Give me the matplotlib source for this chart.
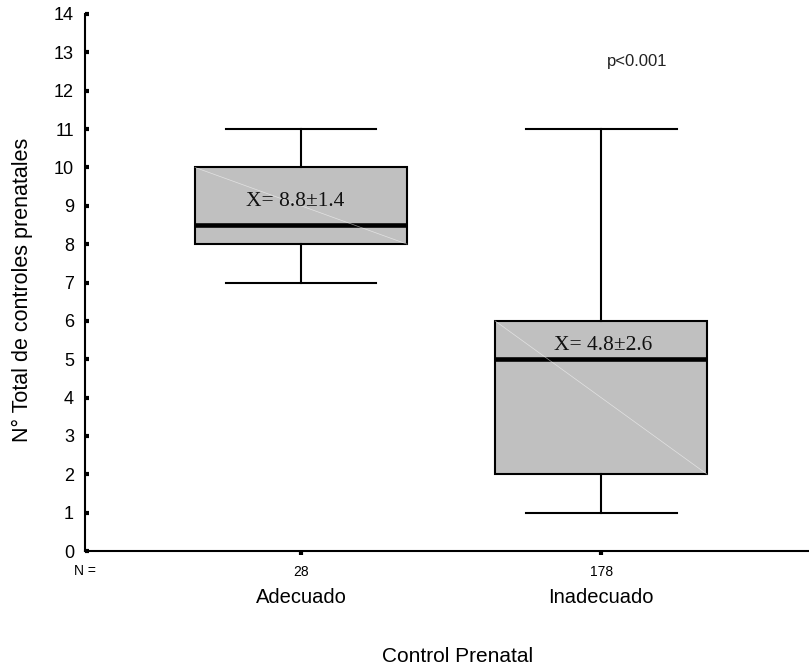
import matplotlib
matplotlib.use("Agg")
import matplotlib.pyplot as plt

# Box plot summary for number of prenatal visits
categories = ["Adecuado", "Inadecuado"]
n_values = [28, 178]
q1 = [8, 2]
medians = [8.5, 5]
q3 = [10, 6]
whisker_low = [7, 1]
whisker_high = [11, 11]
mean_labels = ["X= 8.8\u00b11.4", "X= 4.8\u00b12.6"]
mean_label_y = [9.1, 5.37]
y_ticks = list(range(0, 15))

fig = plt.figure(figsize=(8.09, 6.67), dpi=100)
ax = fig.add_axes([85 / 809, 116 / 667, 724 / 809, 537 / 667])

positions = [1, 2]
label_shift = [-0.02, 0.008]
box_w = 0.707
stats = []
for i, name in enumerate(categories):
    stats.append(dict(label=name, med=medians[i], q1=q1[i], q3=q3[i],
                      whislo=whisker_low[i], whishi=whisker_high[i], fliers=[]))

ax.bxp(stats, positions=positions, widths=box_w, patch_artist=True,
       showfliers=False,
       boxprops=dict(facecolor="#c0c0c0", edgecolor="black", linewidth=1.5),
       medianprops=dict(color="black", linewidth=3.3),
       whiskerprops=dict(color="black", linewidth=1.5),
       capprops=dict(color="black", linewidth=1.5),
       capwidths=0.503)

for i in range(len(categories)):
    x0, x1 = positions[i] - box_w / 2, positions[i] + box_w / 2
    ax.plot([x0, x1], [q3[i], q1[i]], color="white", linewidth=0.5, alpha=0.55, zorder=3)
    ax.text(positions[i] + label_shift[i], mean_label_y[i], mean_labels[i],
            ha="center", va="center", fontsize=15.5, family="Liberation Serif",
            color="#111111", zorder=5)

ax.text(2.12, 12.75, "p<0.001", ha="center", va="center", fontsize=12,
        family="Liberation Sans", color="#222222")

ax.set_xlim(0.28, 2.693)
ax.set_ylim(0, 14)
ax.set_yticks(y_ticks)
ax.set_yticklabels([str(v) for v in y_ticks], family="Liberation Sans", fontsize=13)
ax.tick_params(axis="y", direction="in", length=3, width=3, pad=8)
ax.set_xticks(positions)
ax.set_xticklabels([str(n) for n in n_values], family="Liberation Sans", fontsize=10)
ax.tick_params(axis="x", direction="out", length=3, width=3, pad=7)

for side in ["top", "right"]:
    ax.spines[side].set_visible(False)
ax.spines["left"].set_linewidth(1.5)
ax.spines["bottom"].set_linewidth(1.5)

ax.text(0.28, -0.53, "N =", ha="center", va="center", fontsize=10,
        family="Liberation Sans")
for i, name in enumerate(categories):
    ax.text(positions[i], -1.22, name, ha="center", va="center", fontsize=14.5,
            family="Liberation Sans")

fig.text(458 / 809, 1 - 657 / 667, "Control Prenatal", ha="center", va="center",
         fontsize=15, family="Liberation Sans")
fig.text(22 / 809, 1 - 290 / 667, "N\u00b0 Total de controles prenatales", ha="center",
         va="center", rotation=90, fontsize=15.5, family="Liberation Sans")

fig.savefig("out.png", dpi=100)
